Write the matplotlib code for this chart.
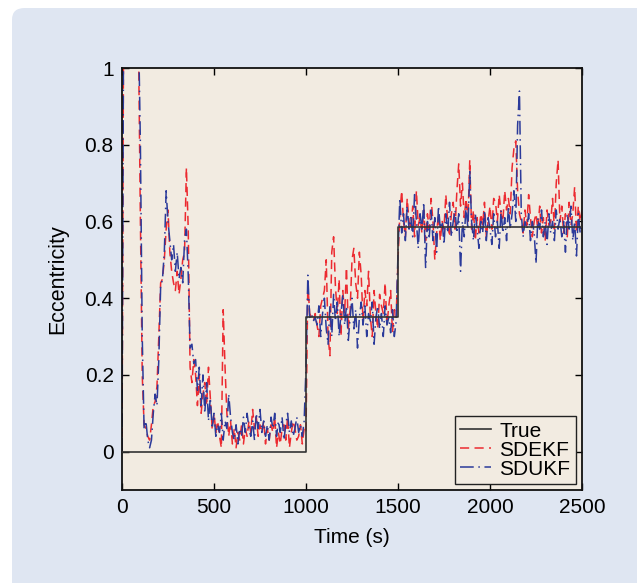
import numpy as np
import matplotlib
matplotlib.use("Agg")
import matplotlib.pyplot as plt
from matplotlib.patches import FancyBboxPatch

plt.rcParams['font.family'] = ['Liberation Sans', 'DejaVu Sans']

# sampling times (s), every 10 s
time = np.arange(0, 2501, 10)

# true eccentricity (step changes)
true_t = [0, 1000, 1500, 2500]
true_v = [0.0, 0.35, 0.585, 0.585]

# SDEKF estimate, one row per 100 s
sdekf_rows = [
    [0.0, 1.3, 1.3, 1.3, 1.3, 1.3, 1.3, 1.3, 1.3, 1.05],
    [0.6, 0.2, 0.07, 0.06, 0.04, 0.03, 0.07, 0.12, 0.13, 0.17],
    [0.3, 0.44, 0.45, 0.5, 0.58, 0.63, 0.52, 0.47, 0.44, 0.42],
    [0.47, 0.41, 0.45, 0.5, 0.52, 0.74, 0.58, 0.22, 0.18, 0.24],
    [0.2, 0.12, 0.2, 0.1, 0.15, 0.18, 0.12, 0.22, 0.14, 0.06],
    [0.1, 0.05, 0.08, 0.04, 0.01, 0.37, 0.22, 0.1, 0.04, 0.08],
    [0.02, 0.06, 0.01, 0.05, 0.03, 0.07, 0.02, 0.06, 0.04, 0.08],
    [0.05, 0.11, 0.06, 0.09, 0.04, 0.07, 0.05, 0.08, 0.02, 0.06],
    [0.03, 0.07, 0.05, 0.09, 0.01, 0.05, 0.02, 0.06, 0.07, 0.03],
    [0.09, 0.01, 0.05, 0.08, 0.06, 0.03, 0.04, 0.07, 0.02, 0.06],
    [0.05, 0.44, 0.36, 0.35, 0.34, 0.36, 0.33, 0.3, 0.38, 0.4],
    [0.42, 0.5, 0.3, 0.25, 0.52, 0.56, 0.43, 0.36, 0.45, 0.3],
    [0.42, 0.36, 0.48, 0.32, 0.37, 0.5, 0.53, 0.44, 0.4, 0.52],
    [0.46, 0.34, 0.42, 0.38, 0.47, 0.35, 0.3, 0.42, 0.36, 0.32],
    [0.41, 0.38, 0.36, 0.44, 0.33, 0.38, 0.42, 0.31, 0.37, 0.35],
    [0.5, 0.62, 0.68, 0.6, 0.56, 0.66, 0.6, 0.58, 0.64, 0.56],
    [0.68, 0.59, 0.61, 0.57, 0.63, 0.55, 0.62, 0.58, 0.66, 0.6],
    [0.5, 0.57, 0.62, 0.55, 0.6, 0.58, 0.67, 0.6, 0.56, 0.62],
    [0.65, 0.58, 0.68, 0.75, 0.64, 0.7, 0.61, 0.66, 0.6, 0.76],
    [0.58, 0.63, 0.55, 0.61, 0.57, 0.62, 0.59, 0.65, 0.56, 0.6],
    [0.64, 0.58, 0.66, 0.65, 0.6, 0.67, 0.62, 0.6, 0.68, 0.63],
    [0.66, 0.62, 0.74, 0.79, 0.81, 0.68, 0.62, 0.6, 0.57, 0.63],
    [0.59, 0.67, 0.61, 0.56, 0.6, 0.62, 0.58, 0.64, 0.57, 0.61],
    [0.55, 0.63, 0.59, 0.6, 0.66, 0.58, 0.7, 0.76, 0.6, 0.64],
    [0.57, 0.62, 0.56, 0.65, 0.59, 0.62, 0.69, 0.57, 0.64, 0.6],
    [0.63],
]

# SDUKF estimate, one row per 100 s
sdukf_rows = [
    [0.0, 1.3, 1.3, 1.3, 1.3, 1.3, 1.3, 1.3, 1.3, 1.1],
    [0.8, 0.3, 0.06, 0.08, 0.03, 0.01, 0.03, 0.1, 0.15, 0.12],
    [0.24, 0.43, 0.45, 0.52, 0.68, 0.6, 0.55, 0.5, 0.54, 0.47],
    [0.52, 0.45, 0.48, 0.44, 0.55, 0.58, 0.46, 0.27, 0.28, 0.23],
    [0.24, 0.16, 0.22, 0.12, 0.2, 0.1, 0.18, 0.08, 0.14, 0.06],
    [0.1, 0.04, 0.07, 0.05, 0.1, 0.03, 0.08, 0.06, 0.15, 0.09],
    [0.05, 0.03, 0.07, 0.02, 0.06, 0.04, 0.09, 0.05, 0.1, 0.06],
    [0.04, 0.08, 0.03, 0.1, 0.06, 0.11, 0.05, 0.08, 0.04, 0.07],
    [0.03, 0.09, 0.06, 0.1, 0.04, 0.08, 0.05, 0.09, 0.03, 0.07],
    [0.1, 0.05, 0.08, 0.04, 0.06, 0.09, 0.05, 0.07, 0.04, 0.08],
    [0.22, 0.46, 0.35, 0.36, 0.34, 0.35, 0.33, 0.38, 0.3, 0.36],
    [0.4, 0.32, 0.28, 0.38, 0.3, 0.41, 0.34, 0.39, 0.3, 0.36],
    [0.41, 0.33, 0.38, 0.29, 0.35, 0.4, 0.32, 0.37, 0.27, 0.35],
    [0.39, 0.33, 0.38, 0.3, 0.36, 0.34, 0.39, 0.28, 0.35, 0.38],
    [0.32, 0.36, 0.3, 0.38, 0.33, 0.35, 0.31, 0.37, 0.3, 0.34],
    [0.52, 0.66, 0.57, 0.62, 0.55, 0.64, 0.58, 0.61, 0.56, 0.67],
    [0.6, 0.53, 0.62, 0.58, 0.65, 0.48, 0.6, 0.56, 0.63, 0.55],
    [0.61, 0.52, 0.64, 0.58, 0.6, 0.54, 0.62, 0.57, 0.65, 0.56],
    [0.6, 0.63, 0.57, 0.62, 0.47, 0.6, 0.56, 0.64, 0.58, 0.73],
    [0.6, 0.55, 0.62, 0.58, 0.53, 0.6, 0.57, 0.63, 0.55, 0.61],
    [0.58, 0.54, 0.62, 0.56, 0.6, 0.53, 0.63, 0.57, 0.61, 0.55],
    [0.64, 0.58, 0.62, 0.68, 0.6, 0.85, 0.94, 0.62, 0.56, 0.6],
    [0.58, 0.62, 0.55, 0.6, 0.57, 0.49, 0.61, 0.58, 0.63, 0.56],
    [0.6, 0.54, 0.62, 0.57, 0.6, 0.55, 0.63, 0.58, 0.61, 0.56],
    [0.6, 0.52, 0.62, 0.58, 0.64, 0.55, 0.6, 0.51, 0.62, 0.57],
    [0.6],
]

sdekf = np.concatenate([np.array(r, dtype=float) for r in sdekf_rows])
sdukf = np.concatenate([np.array(r, dtype=float) for r in sdukf_rows])

x_ticks = [0, 500, 1000, 1500, 2000, 2500]
y_ticks = [0, 0.2, 0.4, 0.6, 0.8, 1]
y_ticklabels = ["0", "0.2", "0.4", "0.6", "0.8", "1"]

W, H = 637, 583
fig = plt.figure(figsize=(W / 100, H / 100), dpi=100, facecolor="white")

panel = FancyBboxPatch((12 / W, -0.05), 1.2, 1.05 - 8 / H,
                       boxstyle="round,pad=0,rounding_size=0.02",
                       transform=fig.transFigure, facecolor="#dfe6f2",
                       edgecolor="none", zorder=-10)
fig.patches.append(panel)

ax = fig.add_axes([122 / W, 1 - 490 / H, 460 / W, 422 / H])
ax.set_zorder(5)
ax.set_facecolor("#f2ebe1")

ax.plot(true_t, true_v, drawstyle="steps-post", color="#333333", lw=1.2,
        label="True", zorder=3)
ax.plot(time, sdekf, color="#ec2a30", lw=1.1, dashes=(6, 3.5),
        label="SDEKF", zorder=2)
ax.plot(time, sdukf, color="#2b3a9a", lw=1.1, dashes=(9, 3, 1, 3),
        label="SDUKF", zorder=2)

ax.set_xlim(0, 2500)
ax.set_ylim(-0.1, 1.0)
ax.set_xticks(x_ticks)
ax.set_yticks(y_ticks)
ax.set_yticklabels(y_ticklabels)
ax.tick_params(direction="in", top=True, right=True, length=5, width=1,
               labelsize=15, pad=6)
for s in ax.spines.values():
    s.set_linewidth(1.3)
    s.set_color("#111111")

ax.set_xlabel("Time (s)", fontsize=15, labelpad=8)
ax.set_ylabel("Eccentricity", fontsize=15.5, labelpad=12)

leg = ax.legend(loc="lower right", fontsize=15, frameon=True, fancybox=False,
                edgecolor="#222222", facecolor="#f2ebe1", framealpha=1,
                handlelength=1.5, handletextpad=0.4, labelspacing=0.0,
                borderpad=0.25, borderaxespad=0.3)
leg.get_frame().set_linewidth(1.0)

fig.savefig("out.png", dpi=100, facecolor=fig.get_facecolor())
